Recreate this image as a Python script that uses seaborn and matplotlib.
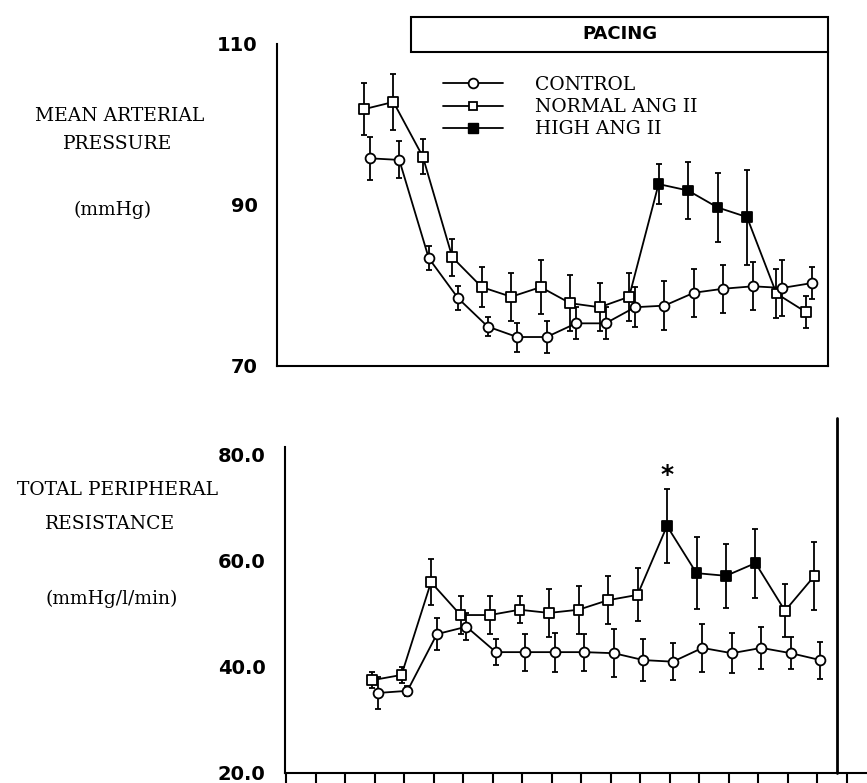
import numpy as np
import pandas as pd
import seaborn as sns
import matplotlib.pyplot as plt
import matplotlib.transforms as mtransforms
from matplotlib.lines import Line2D
from matplotlib.patches import Rectangle

sns.set_style("white")
plt.rcParams['font.family'] = ['DejaVu Serif']
plt.rcParams['text.color'] = 'black'
plt.rcParams['ytick.color'] = 'black'
plt.rcParams['xtick.color'] = 'black'

# time points (16 samples), pacing spans from between 2nd/3rd sample to the end
time_idx = np.arange(16)
ang_phase = ['NORMAL ANG II'] * 10 + ['HIGH ANG II'] * 4 + ['NORMAL ANG II'] * 2

# mean arterial pressure (mmHg)
map_control = [95.8, 95.6, 83.4, 78.4, 74.9, 73.6, 73.6, 75.3, 75.3, 77.3, 77.5, 79.1, 79.6, 79.9, 79.7, 80.3]
map_control_se = [2.7, 2.3, 1.5, 1.5, 1.2, 1.8, 2.0, 2.0, 2.0, 2.5, 3.0, 3.0, 3.0, 3.0, 3.5, 2.0]
map_ang = [101.9, 102.8, 96.0, 83.5, 79.8, 78.6, 79.8, 77.8, 77.3, 78.6, 92.6, 91.8, 89.7, 88.5, 79.0, 76.7]
map_ang_se = [3.2, 3.5, 2.2, 2.3, 2.5, 3.0, 3.4, 3.5, 3.0, 3.0, 2.5, 3.5, 4.3, 5.9, 3.0, 2.0]

# total peripheral resistance (mmHg/l/min)
tpr_control = [35.1, 35.5, 46.2, 47.6, 42.8, 42.8, 42.8, 42.8, 42.6, 41.3, 41.0, 43.6, 42.6, 43.6, 42.6, 41.3]
tpr_control_se = [3.0, 1.0, 3.0, 2.5, 2.5, 3.5, 3.7, 3.5, 4.5, 4.0, 3.5, 4.5, 3.8, 4.0, 3.0, 3.5]
tpr_ang = [37.5, 38.5, 56.0, 49.8, 49.8, 50.8, 50.2, 50.8, 52.6, 53.6, 66.6, 57.7, 57.2, 59.6, 50.6, 57.2]
tpr_ang_se = [1.5, 1.5, 4.3, 3.5, 3.5, 2.5, 4.5, 4.5, 4.5, 5.0, 7.0, 6.8, 6.0, 6.5, 5.0, 6.4]

pacing_start = 1.5
pacing_end = 15.65
dodge = 0.1
LW = 1.3
tick_font = dict(family='DejaVu Sans', weight='bold', size=14, color='black')


def draw_panel(ax, ctrl, ctrl_se, ang, ang_se):
    df_c = pd.DataFrame({'t': time_idx + dodge, 'v': ctrl, 'se': ctrl_se})
    df_a = pd.DataFrame({'t': time_idx - dodge, 'v': ang, 'se': ang_se, 'phase': ang_phase})
    for d in (df_c, df_a):
        ax.errorbar(d['t'], d['v'], yerr=d['se'], fmt='none', ecolor='black',
                    elinewidth=LW, capsize=2.5, capthick=LW, zorder=1)
    sns.lineplot(data=df_a, x='t', y='v', color='black', lw=LW, ax=ax, zorder=2)
    sns.lineplot(data=df_c, x='t', y='v', color='black', lw=LW, ax=ax, zorder=2)
    sns.scatterplot(data=df_a, x='t', y='v', hue='phase',
                    palette={'NORMAL ANG II': 'white', 'HIGH ANG II': 'black'},
                    marker='s', s=50, edgecolor='black', linewidth=LW,
                    legend=False, ax=ax, zorder=3)
    sns.scatterplot(data=df_c, x='t', y='v', color='white', marker='o', s=50,
                    edgecolor='black', linewidth=LW, legend=False, ax=ax, zorder=4)
    ax.set_xlabel('')
    ax.set_ylabel('')


fig = plt.figure(figsize=(8.67, 7.83), dpi=100)

# ---- top panel: MAP
ax1 = fig.add_axes([277 / 867, 1 - 366 / 783, 551 / 867, 322 / 783])
draw_panel(ax1, map_control, map_control_se, map_ang, map_ang_se)
ax1.set_xlim(-3.05, pacing_end)
ax1.set_ylim(70, 110)
ax1.set_xticks([])
ax1.set_yticks([70, 90, 110])
ax1.set_yticklabels(['70', '90', '110'], **tick_font)
ax1.set_yticks([110], minor=True)
ax1.tick_params(axis='y', which='major', length=0, pad=14)
ax1.tick_params(axis='y', which='minor', direction='in', length=6, width=1.5)
ax1.spines['top'].set_visible(False)
ax1.spines['right'].set_bounds(70, 109)
for s in ('left', 'bottom', 'right'):
    ax1.spines[s].set_linewidth(1.5)
    ax1.spines[s].set_color('black')

trans = mtransforms.blended_transform_factory(ax1.transData, ax1.transAxes)
ax1.add_patch(Rectangle((pacing_start, 0.975), pacing_end - pacing_start, 0.109,
                        transform=trans, facecolor='white', edgecolor='black',
                        lw=1.5, clip_on=False, zorder=5))
ax1.text((pacing_start + pacing_end) / 2, 1.03, 'PACING', transform=trans,
         ha='center', va='center', family='DejaVu Sans', weight='bold', size=13, zorder=6)

handles = [
    Line2D([], [], color='black', lw=LW, marker='o', ms=7, mfc='white', mec='black', mew=LW),
    Line2D([], [], color='black', lw=LW, marker='s', ms=6, mfc='white', mec='black', mew=LW),
    Line2D([], [], color='black', lw=LW, marker='s', ms=7, mfc='black', mec='black'),
]
ax1.legend(handles, ['CONTROL', 'NORMAL ANG II', 'HIGH ANG II'], loc='upper left',
           bbox_to_anchor=((443 - 277) / 551, (366 - 76) / 322), frameon=False,
           borderpad=0, borderaxespad=0, handlelength=3.2, handletextpad=1.7,
           labelspacing=0.22, prop=dict(family='DejaVu Serif', size=13.5))

# ---- bottom panel: TPR
ax2 = fig.add_axes([285 / 867, 1 - 773 / 783, (867 - 285) / 867, (773 - 447) / 783])
draw_panel(ax2, tpr_control, tpr_control_se, tpr_ang, tpr_ang_se)
ax2.set_xlim(-3.05, 16.68)
ax2.set_ylim(20, 81.5)
ax2.set_xticks(np.arange(-3, 17))
ax2.set_xticklabels([])
ax2.tick_params(axis='x', direction='out', length=7, width=1.5, color='black', bottom=True)
ax2.set_yticks([20, 40, 60, 80])
ax2.set_yticklabels(['20.0', '40.0', '60.0', '80.0'], **tick_font)
ax2.tick_params(axis='y', length=0, pad=14)
ax2.spines['top'].set_visible(False)
ax2.spines['right'].set_visible(False)
for s in ('left', 'bottom'):
    ax2.spines[s].set_linewidth(1.5)
    ax2.spines[s].set_color('black')
ax2.axvline(pacing_end, ymin=0, ymax=(773 - 418) / (773 - 447), color='black',
            lw=2, clip_on=False)

# significance star over high Ang II peak
peak = int(np.argmax(tpr_ang))
ax2.annotate('*', (time_idx[peak] - dodge, tpr_ang[peak] + tpr_ang_se[peak]),
             xytext=(0, 1), textcoords='offset points', ha='center', va='bottom',
             family='DejaVu Sans', weight='bold', size=18)

# axis titles
lab = dict(ha='center', va='center', family='DejaVu Serif', size=13.5, color='black')
fig.text(120 / 867, 1 - 116 / 783, 'MEAN ARTERIAL', **lab)
fig.text(118 / 867, 1 - 144 / 783, 'PRESSURE', **lab)
fig.text(113 / 867, 1 - 210 / 783, '(mmHg)', **lab)
fig.text(118 / 867, 1 - 490 / 783, 'TOTAL PERIPHERAL', **lab)
fig.text(110 / 867, 1 - 524 / 783, 'RESISTANCE', **lab)
fig.text(112 / 867, 1 - 599 / 783, '(mmHg/l/min)', **lab)

fig.savefig('out.png', dpi=100)
